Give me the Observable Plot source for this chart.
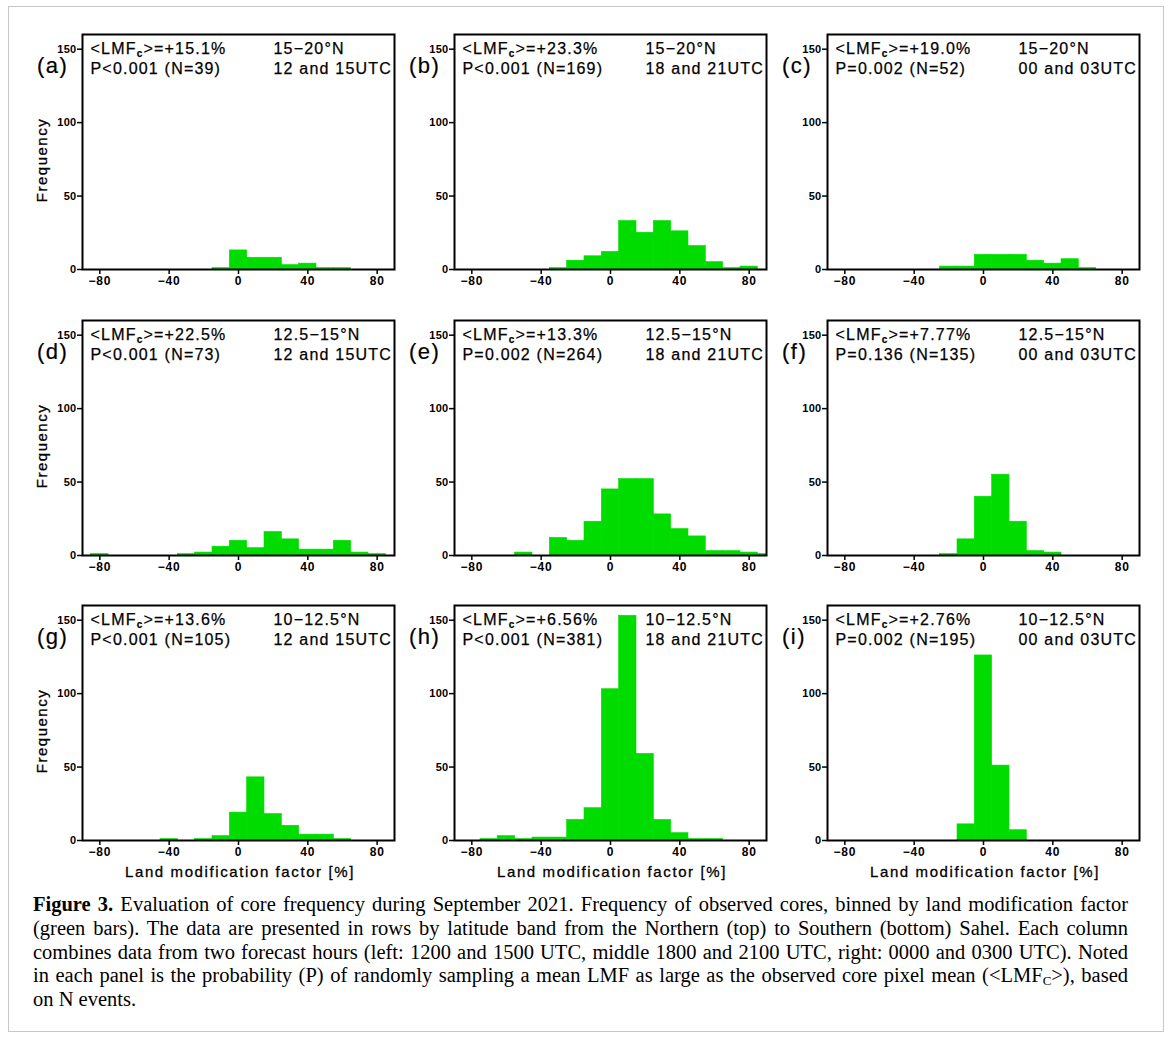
<!DOCTYPE html>
<html>
<head>
<meta charset="utf-8">
<script src="https://cdn.jsdelivr.net/npm/d3@7"></script>
<script src="https://cdn.jsdelivr.net/npm/@observablehq/plot@0.6"></script>
<style>
  html, body { margin: 0; padding: 0; background: #fff; }
  body { width: 1171px; height: 1039px; position: relative; overflow: hidden; font-family: "Liberation Sans", Arial, sans-serif; color: #000; }
  #border { position: absolute; left: 8px; top: 6px; width: 1156px; height: 1026px; border: 1px solid #c8c8c8; box-sizing: border-box; }
  .panel { position: absolute; }
  .panel svg { overflow: visible; }
  .plabel { position: absolute; font-size: 22px; line-height: 20px; letter-spacing: 1.5px; white-space: nowrap; -webkit-text-stroke: 0.2px #000; }
  .ylab { position: absolute; width: 120px; text-align: center; font-size: 15px; line-height: 16px; letter-spacing: 1.5px; transform: rotate(-90deg); transform-origin: center; white-space: nowrap; -webkit-text-stroke: 0.3px #000; }
  .xlab { position: absolute; width: 312px; text-align: center; font-size: 15px; line-height: 16px; letter-spacing: 1.6px; white-space: nowrap; -webkit-text-stroke: 0.3px #000; }
  #caption { position: absolute; left: 33px; top: 893px; width: 1095px; font-family: "Liberation Serif", "Times New Roman", serif; font-size: 20.5px; line-height: 23.8px; }
  #caption .ln { display: block; white-space: nowrap; }
  #caption .ln span { display: inline-block; white-space: nowrap; }
  #caption sub { font-size: 13px; vertical-align: -3px; line-height: 0; }
</style>
</head>
<body>
<div id="border"></div>
<div id="fig"></div>
<div id="caption">
  <div class="ln"><span class="j"><b>Figure 3.</b> Evaluation of core frequency during September 2021. Frequency of observed cores, binned by land modification factor</span></div>
  <div class="ln"><span class="j">(green bars). The data are presented in rows by latitude band from the Northern (top) to Southern (bottom) Sahel. Each column</span></div>
  <div class="ln"><span class="j">combines data from two forecast hours (left: 1200 and 1500 UTC, middle 1800 and 2100 UTC, right: 0000 and 0300 UTC). Noted</span></div>
  <div class="ln"><span class="j">in each panel is the probability (P) of randomly sampling a mean LMF as large as the observed core pixel mean (&lt;LMF<sub>C</sub>&gt;), based</span></div>
  <div class="ln"><span>on N events.</span></div>
</div>
<script>
// ---- Data ----
const binCenters = [-90,-80,-70,-60,-50,-40,-30,-20,-10,0,10,20,30,40,50,60,70,80,90];
const countsA = [0,0,0,0,0,0,0,0,1,13,8,8,3,4,1,1,0,0,0];
const countsB = [0,0,0,0,0,0,1,6,9,12,33,25,33,26,16,5,1,2,0];
const countsC = [0,0,0,0,0,0,0,2,2,10,10,10,6,4,7,1,0,0,0];
const countsD = [0,1,0,0,0,0,1,2,6,10,5,16,11,4,4,10,2,1,0];
const countsE = [0,0,0,0,2,0,12,10,23,45,52,52,28,18,13,3,3,2,1];
const countsF = [0,0,0,0,0,0,0,1,11,40,55,23,3,2,0,0,0,0,0];
const countsG = [0,0,0,0,0,1,0,1,3,19,43,18,10,4,4,1,0,0,0];
const countsH = [0,0,1,3,1,2,2,14,22,103,153,59,14,5,1,1,0,0,0];
const countsI = [0,0,0,0,0,0,0,0,11,126,51,7,0,0,0,0,0,0,0];

const panelLetters = ["(a)","(b)","(c)","(d)","(e)","(f)","(g)","(h)","(i)"];
const lmfMeans = ["+15.1%","+23.3%","+19.0%","+22.5%","+13.3%","+7.77%","+13.6%","+6.56%","+2.76%"];
const pValues = ["P<0.001","P<0.001","P=0.002","P<0.001","P=0.002","P=0.136","P<0.001","P<0.001","P=0.002"];
const nEvents = [39,169,52,73,264,135,105,381,195];
const latBands = ["15−20°N","12.5−15°N","10−12.5°N"];
const hourLabels = ["12 and 15UTC","18 and 21UTC","00 and 03UTC"];
const xTicks = [-80,-40,0,40,80];
const yTicks = [0,50,100,150];
const xLabel = "Land modification factor [%]";
const yLabel = "Frequency";
const binWidth = 10;

const allCounts = [countsA,countsB,countsC,countsD,countsE,countsF,countsG,countsH,countsI];

// ---- Layout ----
const colX = [82, 454, 827];
const rowY = [34, 320, 605];
const FW = 312, FH = 235;
const ML = 48, MR = 8, MT = 4, MB = 24;
const GREEN = "#00dc00";

const fig = document.getElementById("fig");
const fmt = d => (d < 0 ? "\u2212" + (-d) : String(d));

allCounts.forEach((counts, i) => {
  const r = Math.floor(i / 3), c = i % 3;
  const data = binCenters.map((b, k) => ({x1: b - binWidth/2, x2: b + binWidth/2, n: counts[k]})).filter(d => d.n > 0);
  const line1 = "<LMFc>=" + lmfMeans[i];
  const line2 = pValues[i] + " (N=" + nEvents[i] + ")";
  const txt = {frameAnchor: "top-left", lineAnchor: "top", fontSize: 16, fill: "#000", stroke: "#000", strokeWidth: 0.25};
  const svg = Plot.plot({
    width: ML + FW + MR,
    height: MT + FH + MB,
    marginLeft: ML, marginRight: MR, marginTop: MT, marginBottom: MB,
    x: {domain: [-90, 90]},
    y: {domain: [0, 160]},
    style: {fontFamily: "Liberation Sans, Arial, sans-serif", background: "transparent", color: "#000"},
    marks: [
      Plot.rect(data, {x1: "x1", x2: "x2", y1: 0, y2: "n", fill: GREEN, stroke: GREEN, strokeWidth: 0.6, clip: true}),
      Plot.axisX({ticks: xTicks, tickFormat: fmt, tickSize: 5, tickPadding: 2, fontSize: 12, fontWeight: "bold", strokeWidth: 1.5, label: null}),
      Plot.axisY({ticks: yTicks, tickFormat: fmt, tickSize: 5, tickPadding: 1, fontSize: 11, fontWeight: "bold", strokeWidth: 1.5, label: null}),
      Plot.frame({stroke: "#000", strokeWidth: 2}),
      Plot.text([line1], {...txt, dx: 8, dy: 8.6}),
      Plot.text([line2], {...txt, dx: 8, dy: 28.6}),
      Plot.text([latBands[r]], {...txt, dx: 191, dy: 8.6}),
      Plot.text([hourLabels[c]], {...txt, dx: 191, dy: 28.6})
    ]
  });
  // letter spacing + subscript c
  d3.select(svg).selectAll('g[aria-label="text"] text').each(function() {
    const t = d3.select(this);
    t.style("letter-spacing", "1.2px");
    const s = this.textContent;
    if (s.startsWith("<LMFc>")) {
      t.text(null);
      t.append("tspan").text("<LMF");
      t.append("tspan").attr("dy", 3).attr("font-size", 10).attr("font-weight", "bold").text("c");
      t.append("tspan").attr("dy", -3).text(">=" + s.slice(7));
    }
  });
  d3.select(svg).selectAll('g[aria-label="x-axis tick label"] text').style("letter-spacing", "0.8px");
  d3.select(svg).selectAll('g[aria-label="y-axis tick label"] text').style("letter-spacing", "0.3px");

  const div = document.createElement("div");
  div.className = "panel";
  div.style.left = (colX[c] - ML) + "px";
  div.style.top = (rowY[r] - MT) + "px";
  div.appendChild(svg);
  fig.appendChild(div);

  const pl = document.createElement("div");
  pl.className = "plabel";
  pl.textContent = panelLetters[i];
  pl.style.left = (colX[c] - 45) + "px";
  pl.style.top = (rowY[r] + 40 - 18) + "px";
  fig.appendChild(pl);

  if (c === 0) {
    const yl = document.createElement("div");
    yl.className = "ylab";
    yl.textContent = yLabel;
    yl.style.left = (42 - 60) + "px";
    yl.style.top = (rowY[r] + FH / 2 + 8 - 8) + "px";
    fig.appendChild(yl);
  }
  if (r === 2) {
    const xl = document.createElement("div");
    xl.className = "xlab";
    xl.textContent = xLabel;
    xl.style.left = (colX[c] + 2) + "px";
    xl.style.top = (rowY[r] + FH + 24) + "px";
    fig.appendChild(xl);
  }
});

// Fit caption lines to the column width by adjusting word spacing
const CAP_W = 1095;
document.querySelectorAll("#caption span.j").forEach(sp => {
  const w = sp.getBoundingClientRect().width;
  const nSpaces = (sp.textContent.match(/ /g) || []).length;
  if (nSpaces > 0) sp.style.wordSpacing = ((CAP_W - w) / nSpaces) + "px";
});
</script>
</body>
</html>
